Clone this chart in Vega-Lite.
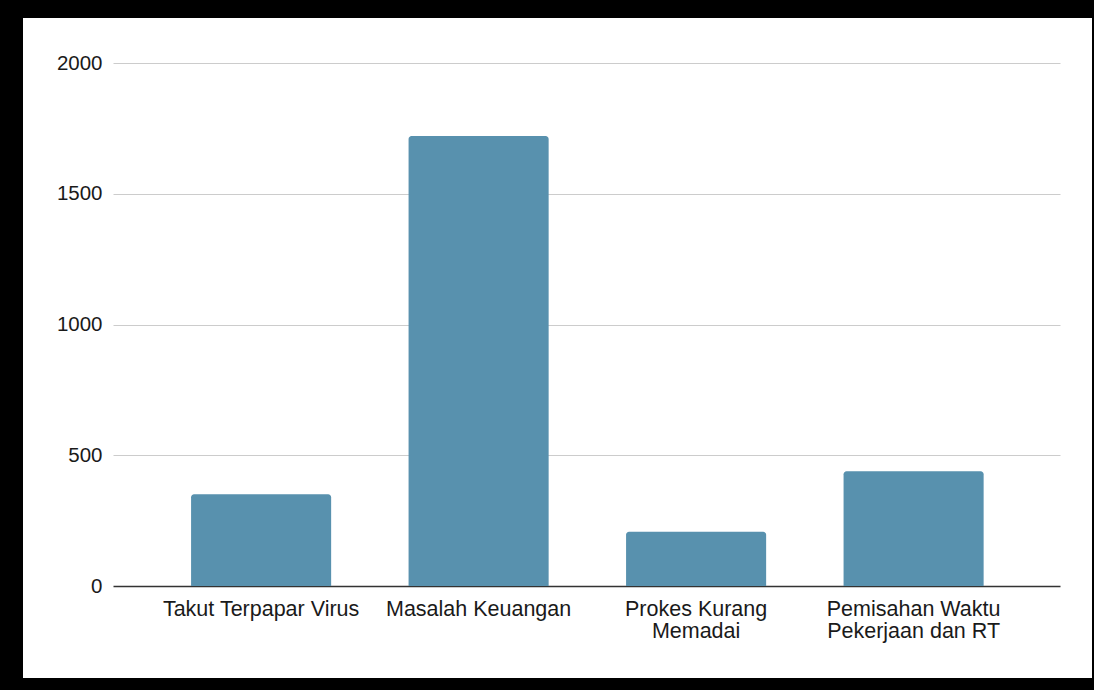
{
  "$schema": "https://vega.github.io/schema/vega-lite/v6.json",
  "autosize": {"type": "none"},
  "width": 1069,
  "height": 660,
  "padding": {"left": 23, "top": 18, "right": 2, "bottom": 12},
  "background": "#000000",
  "config": {
    "view": {"fill": "#ffffff", "stroke": null},
    "font": "Liberation Sans"
  },
  "data": {
    "values": [
      {"alasan": "Takut Terpapar Virus", "jumlah": 351},
      {"alasan": "Masalah Keuangan", "jumlah": 1721},
      {"alasan": "Prokes Kurang Memadai", "jumlah": 207},
      {"alasan": "Pemisahan Waktu Pekerjaan dan RT", "jumlah": 439}
    ]
  },
  "mark": {"type": "bar", "color": "#5891ae", "cornerRadiusTopLeft": 3, "cornerRadiusTopRight": 3},
  "encoding": {
    "x": {
      "field": "alasan",
      "type": "nominal",
      "sort": null,
      "scale": {"paddingInner": 0.356, "paddingOuter": 0.6355, "align": 0.608},
      "axis": {
        "title": null,
        "orient": "bottom",
        "offset": -92,
        "domain": false,
        "ticks": false,
        "tickSize": 0,
        "grid": false,
        "labelAngle": 0,
        "labelPadding": 12,
        "labelFontSize": 21.5,
        "labelColor": "#1a1a1a",
        "labelLineHeight": 22,
        "labelLimit": 0,
        "labelFont": "Liberation Sans",
        "labelExpr": "datum.label == 'Prokes Kurang Memadai' ? ['Prokes Kurang', 'Memadai'] : datum.label == 'Pemisahan Waktu Pekerjaan dan RT' ? ['Pemisahan Waktu', 'Pekerjaan dan RT'] : datum.label"
      }
    },
    "y": {
      "field": "jumlah",
      "type": "quantitative",
      "scale": {"domain": [-351.8, 2172.1], "nice": false, "zero": false},
      "axis": {
        "title": null,
        "orient": "left",
        "offset": -90,
        "domain": false,
        "grid": false,
        "ticks": true,
        "format": "d",
        "values": [0, 500, 1000, 1500, 2000],
        "tickSize": -947,
        "tickColor": {"condition": {"test": "datum.value === 0", "value": "#333333"}, "value": "#cccccc"},
        "tickWidth": {"condition": {"test": "datum.value === 0", "value": 1.6}, "value": 1},
        "labelPadding": 958,
        "labelFontSize": 20.5,
        "labelColor": "#1a1a1a",
        "labelFont": "Liberation Sans"
      }
    },
    "y2": {"datum": 0}
  }
}
